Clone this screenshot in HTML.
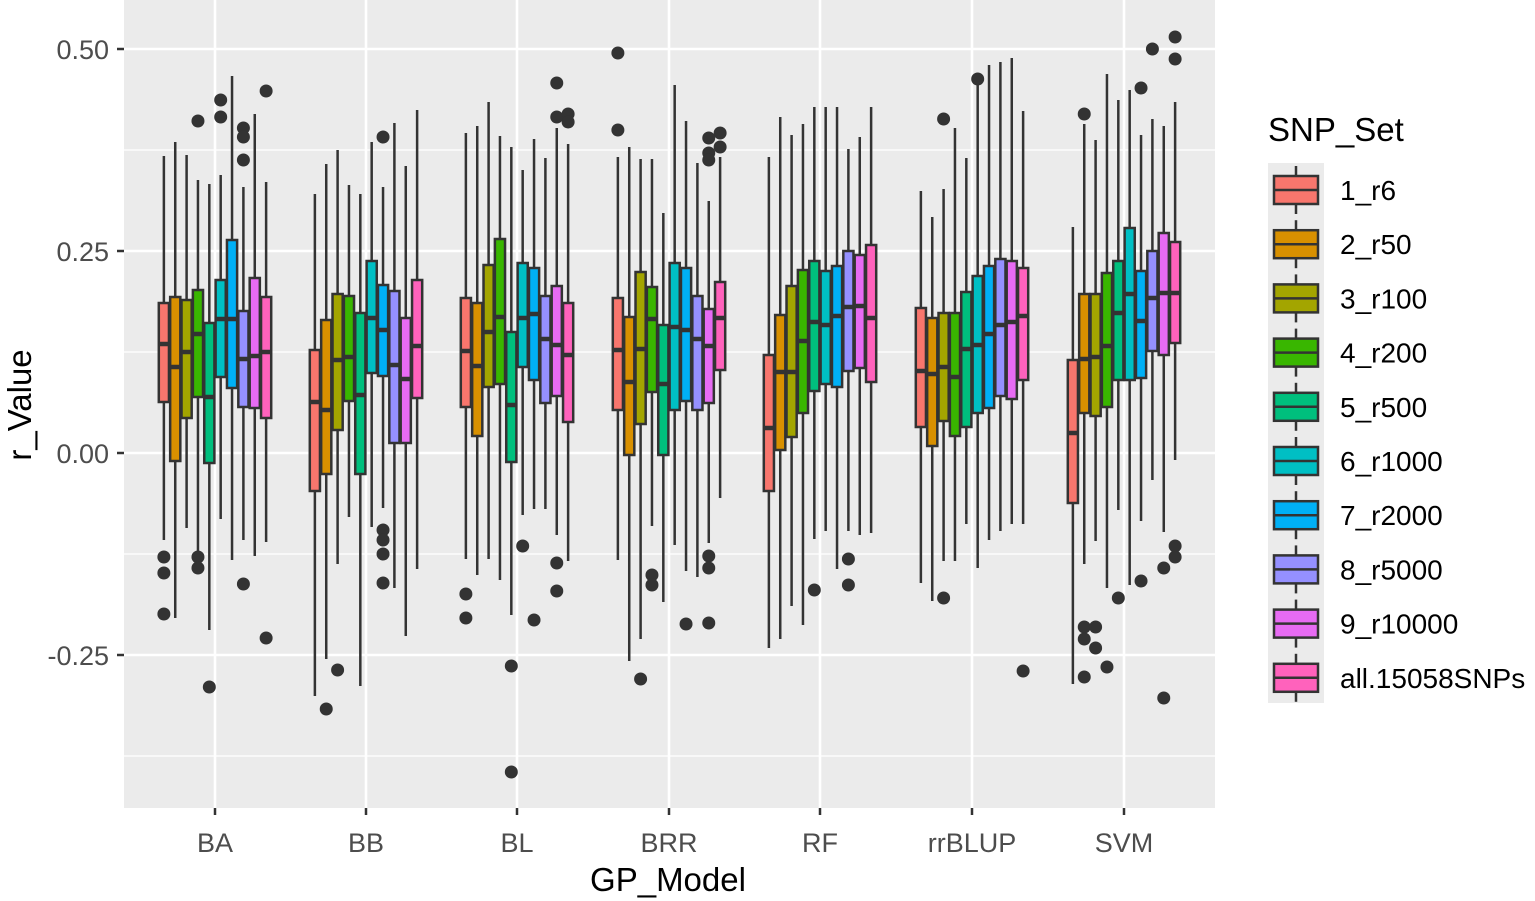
<!DOCTYPE html>
<html><head><meta charset="utf-8"><style>
html,body{margin:0;padding:0;background:#fff;}
svg{display:block;font-family:"Liberation Sans",Arial,sans-serif;}
</style></head><body>
<svg id="c" width="1535" height="901" viewBox="0 0 1535 901" xmlns="http://www.w3.org/2000/svg">
<rect x="124" y="0" width="1091" height="808" fill="#ebebeb"/>
<g stroke="#fff" stroke-width="1.3">
<line x1="124" x2="1215" y1="150" y2="150"/><line x1="124" x2="1215" y1="352" y2="352"/>
<line x1="124" x2="1215" y1="554" y2="554"/><line x1="124" x2="1215" y1="756" y2="756"/>
</g>
<g stroke="#fff" stroke-width="2.6">
<line x1="124" x2="1215" y1="49" y2="49"/><line x1="124" x2="1215" y1="251" y2="251"/>
<line x1="124" x2="1215" y1="453" y2="453"/><line x1="124" x2="1215" y1="655" y2="655"/>
<line x1="215" x2="215" y1="0" y2="808"/><line x1="366" x2="366" y1="0" y2="808"/>
<line x1="517" x2="517" y1="0" y2="808"/><line x1="669" x2="669" y1="0" y2="808"/>
<line x1="820" x2="820" y1="0" y2="808"/><line x1="972" x2="972" y1="0" y2="808"/>
<line x1="1124" x2="1124" y1="0" y2="808"/>
</g>
<g id="boxes"></g>
<g stroke="#333" stroke-width="2.5">
<line x1="117" x2="124" y1="49" y2="49"/><line x1="117" x2="124" y1="251" y2="251"/>
<line x1="117" x2="124" y1="453" y2="453"/><line x1="117" x2="124" y1="655" y2="655"/>
<line x1="215" x2="215" y1="808" y2="815"/><line x1="366" x2="366" y1="808" y2="815"/>
<line x1="517" x2="517" y1="808" y2="815"/><line x1="669" x2="669" y1="808" y2="815"/>
<line x1="820" x2="820" y1="808" y2="815"/><line x1="972" x2="972" y1="808" y2="815"/>
<line x1="1124" x2="1124" y1="808" y2="815"/>
</g>
<g fill="#4d4d4d" font-size="27" text-anchor="end">
<text x="109" y="59">0.50</text><text x="109" y="261">0.25</text>
<text x="109" y="463">0.00</text><text x="109" y="665">-0.25</text>
</g>
<g fill="#4d4d4d" font-size="27" text-anchor="middle">
<text x="215" y="852">BA</text><text x="366" y="852">BB</text><text x="517" y="852">BL</text>
<text x="669" y="852">BRR</text><text x="820" y="852">RF</text><text x="972" y="852">rrBLUP</text>
<text x="1124" y="852">SVM</text>
</g>
<text x="668" y="891" font-size="33" text-anchor="middle" fill="#000">GP_Model</text>
<text transform="translate(31,405) rotate(-90)" font-size="33" text-anchor="middle" fill="#000">r_Value</text>
<text x="1268" y="141" font-size="33" fill="#000">SNP_Set</text>
<rect x="1268" y="163" width="56" height="540" fill="#ebebeb"/>
<g id="legend"></g>
</svg>
<script>
var cols=["#F8766D","#D89000","#A3A500","#39B600","#00BF7D","#00BFC4","#00B0F6","#9590FF","#E76BF3","#FF62BC"];
var centers=[215,366,517,669,820,972,1124];
var D=[
[[156,303,344,402,540,[557,573,614]],[142,297,367,461,618,[]],[155,300,352,418,528,[]],[180,290,334,397,563,[121,557,568]],[184,323,397,463,630,[687]],[175,280,319,377,519,[100,117]],[76,240,319,388,560,[]],[187,311,359,407,540,[128,137,160,584]],[114,278,356,408,556,[]],[182,297,352,418,542,[91,638]]],
[[194,350,402,491,696,[]],[164,320,410,474,659,[709]],[150,294,360,430,564,[670]],[185,296,357,401,517,[]],[194,313,395,474,686,[]],[142,261,318,373,527,[]],[187,285,330,376,508,[137,530,540,554,583]],[123,291,365,443,588,[]],[166,318,379,443,636,[]],[110,280,346,398,569,[]]],
[[133,298,351,407,559,[594,618]],[126,303,366,436,575,[]],[102,265,332,387,559,[]],[136,239,317,384,580,[]],[147,332,405,462,615,[666,772]],[170,263,318,367,515,[546]],[139,268,314,380,509,[620]],[158,296,339,403,509,[]],[128,286,345,396,535,[83,117,563,591]],[144,303,355,422,561,[114,122]]],
[[157,298,350,410,560,[53,130]],[147,317,382,455,661,[]],[159,272,349,424,639,[679]],[159,287,319,392,526,[575,585]],[213,325,384,455,602,[]],[85,263,327,410,545,[]],[121,268,330,401,571,[624]],[163,296,339,410,577,[]],[201,309,346,403,543,[138,153,160,556,568,623]],[157,282,318,370,498,[133,147]]],
[[157,355,428,491,648,[]],[117,315,372,450,639,[]],[135,286,372,437,606,[]],[124,270,341,413,625,[]],[107,261,322,391,539,[590]],[107,271,325,384,531,[]],[107,266,316,387,569,[]],[149,251,307,371,531,[559,585]],[137,255,306,368,535,[]],[107,245,318,382,533,[]]],
[[191,308,371,427,583,[]],[217,318,374,446,601,[]],[189,313,367,421,561,[119,598]],[128,313,377,436,561,[]],[158,292,349,427,524,[]],[83,276,345,413,568,[79]],[65,266,334,408,540,[]],[62,259,325,396,531,[]],[58,261,322,399,524,[]],[111,268,316,380,524,[671]]],
[[227,360,433,503,684,[]],[124,294,359,413,564,[114,627,639,677]],[140,294,357,416,541,[627,648]],[74,273,346,407,588,[667]],[100,261,313,380,510,[598]],[90,228,294,380,585,[]],[135,271,321,378,521,[88,581]],[119,251,298,351,480,[49]],[126,233,293,355,532,[568,698]],[102,242,293,343,460,[37,59,546,557]]]
];
var s="",w=11.36;
for(var g=0;g<7;g++)for(var i=0;i<10;i++){
 var d=D[g][i],cx=centers[g]-5*w+w/2+i*w,x0=cx-w/2;
 s+='<line x1="'+cx+'" x2="'+cx+'" y1="'+d[0]+'" y2="'+d[4]+'" stroke="#333" stroke-width="2.5"/>';
 s+='<rect x="'+(x0+0.6)+'" y="'+d[1]+'" width="'+(w-1.2)+'" height="'+(d[3]-d[1])+'" fill="'+cols[i]+'" stroke="#333" stroke-width="2.5"/>';
 s+='<line x1="'+(x0+0.6)+'" x2="'+(x0+w-0.6)+'" y1="'+d[2]+'" y2="'+d[2]+'" stroke="#333" stroke-width="4.5"/>';
 for(var k=0;k<d[5].length;k++)s+='<circle cx="'+cx+'" cy="'+d[5][k]+'" r="6.5" fill="#333"/>';
}
document.getElementById("boxes").innerHTML=s;
var labs=["1_r6","2_r50","3_r100","4_r200","5_r500","6_r1000","7_r2000","8_r5000","9_r10000","all.15058SNPs"];
var L="";
for(var i=0;i<10;i++){
 var cy=190+i*54.2;
 L+='<line x1="1296" x2="1296" y1="'+(cy-24)+'" y2="'+(cy+24)+'" stroke="#333" stroke-width="2.5"/>';
 L+='<rect x="1274" y="'+(cy-14)+'" width="44" height="28" fill="'+cols[i]+'" stroke="#333" stroke-width="2.5"/>';
 L+='<line x1="1274" x2="1318" y1="'+cy+'" y2="'+cy+'" stroke="#333" stroke-width="2.5"/>';
 L+='<text x="1340" y="'+(cy+10)+'" font-size="28" fill="#000">'+labs[i]+'</text>';
}
document.getElementById("legend").innerHTML=L;
</script>
</body></html>
